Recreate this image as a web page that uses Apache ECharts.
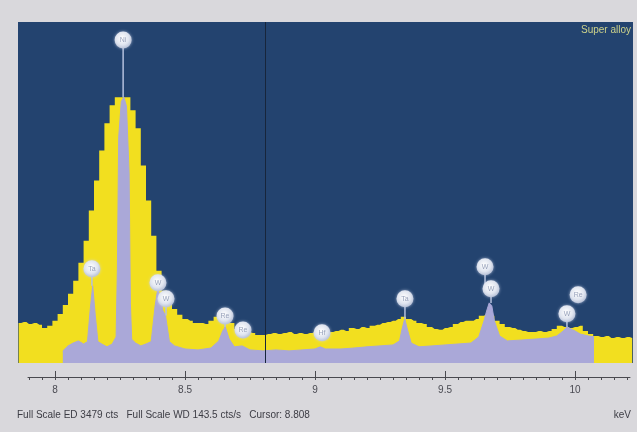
<!DOCTYPE html>
<html>
<head>
<meta charset="utf-8">
<script src="https://cdn.jsdelivr.net/npm/echarts@6/dist/echarts.min.js"></script>
<style>
html,body{margin:0;padding:0;background:#d9d8dc;}
#c{width:637px;height:432px;}
</style>
</head>
<body>
<div id="c"></div>
<script>
// ED spectrum (counts), energies in keV, 0.02 keV channels
const edEnergy = [7.86,7.88,7.90,7.92,7.94,7.96,7.98,8.00,8.02,8.04,8.06,8.08,8.10,8.12,8.14,8.16,8.18,8.20,8.22,8.24,8.26,8.28,8.30,8.32,8.34,8.36,8.38,8.40,8.42,8.44,8.46,8.48,8.50,8.52,8.54,8.56,8.58,8.60,8.62,8.64,8.66,8.68,8.70,8.72,8.74,8.76,8.78,8.80,8.82,8.84,8.86,8.88,8.90,8.92,8.94,8.96,8.98,9.00,9.02,9.04,9.06,9.08,9.10,9.12,9.14,9.16,9.18,9.20,9.22,9.24,9.26,9.28,9.30,9.32,9.34,9.36,9.38,9.40,9.42,9.44,9.46,9.48,9.50,9.52,9.54,9.56,9.58,9.60,9.62,9.64,9.66,9.68,9.70,9.72,9.74,9.76,9.78,9.80,9.82,9.84,9.86,9.88,9.90,9.92,9.94,9.96,9.98,10.00,10.02,10.04,10.06,10.08,10.10,10.12,10.14,10.16,10.18,10.20,10.22];
const edCounts = [409,419,399,409,389,358,379,430,501,593,706,839,1023,1248,1555,1862,2169,2445,2629,2711,2711,2711,2578,2394,2015,1657,1299,941,737,614,552,491,450,430,409,409,399,430,471,512,491,409,348,327,317,307,286,286,297,307,297,307,317,297,307,297,307,317,307,297,317,327,338,327,358,348,368,358,379,389,409,419,430,450,471,450,430,409,399,368,348,338,358,368,399,419,430,430,450,481,501,481,430,399,368,358,338,327,317,317,327,317,327,348,379,368,358,368,379,327,297,276,266,276,256,266,256,266,256];

// WD spectrum (cts/s)
const wdEnergy = [8.03,8.05,8.07,8.09,8.11,8.125,8.135,8.145,8.155,8.165,8.18,8.20,8.22,8.235,8.24,8.245,8.255,8.265,8.275,8.285,8.29,8.295,8.31,8.33,8.35,8.37,8.385,8.395,8.405,8.415,8.425,8.44,8.46,8.50,8.55,8.60,8.63,8.645,8.655,8.67,8.69,8.72,8.75,8.80,8.85,8.90,8.95,9.00,9.02,9.04,9.10,9.15,9.20,9.25,9.30,9.325,9.335,9.345,9.355,9.37,9.40,9.45,9.50,9.55,9.60,9.63,9.65,9.66,9.67,9.68,9.69,9.71,9.74,9.80,9.85,9.90,9.93,9.955,9.97,9.985,10.00,10.02,10.05,10.073];
const wdRate = [5.1,7.2,8.4,9.3,8.0,9.0,22.0,32.5,20.0,9.0,8.0,6.8,8.0,11.0,40.0,95.0,110.0,111.8,108.0,80.0,25.0,10.0,8.4,7.2,8.0,9.0,24.0,31.0,28.0,22.0,20.0,9.0,7.2,5.9,5.5,6.3,9.3,13.5,15.2,10.1,6.8,7.2,5.5,5.1,5.5,5.1,5.5,5.9,6.8,5.9,5.9,6.3,6.8,7.2,7.6,9.3,14.3,18.6,14.3,8.4,6.8,7.2,7.6,8.0,8.4,11.0,17.7,21.9,25.3,24.1,17.7,11.4,9.3,9.7,10.1,10.5,11.4,13.5,15.2,14.3,13.5,12.2,11.4,11.0];

// Peak labels: energy, label height (cts/s scale), stem base, text
const peakEnergy = [8.262,8.142,8.396,8.427,8.654,8.723,9.027,9.346,9.654,9.677,9.969,10.012];
const peakLabelY = [135.9,39.7,33.8,27.0,19.8,13.9,12.7,27.0,40.5,31.2,20.7,28.7];
const peakStemY  = [111.8,32.5,31.0,20.0,15.2,13.9,12.7,18.6,31.2,25.3,15.2,28.7];
const peakText   = ['Ni','Ta','W','W','Re','Re','Hf','Ta','W','W','W','Re'];

const tickLabels = [8, 8.5, 9, 9.5, 10];
const fullScaleED = 3479;
const fullScaleWD = 143.5;
const cursorKeV = 8.808;

const minorTicks = [];
for (let i = 158; i <= 204; i++) minorTicks.push(+(i * 0.05).toFixed(2));

const chart = echarts.init(document.getElementById('c'), null, {renderer: 'canvas'});

const edData = edEnergy.map((e, i) => [e, edCounts[i]]);
const wdData = wdEnergy.map((e, i) => [e, wdRate[i]]);
const labelData = peakEnergy.map((e, i) => [e, peakLabelY[i], peakStemY[i], peakText[i]]);

const option = {
  backgroundColor: '#d9d8dc',
  animation: false,
  grid: [
    {left: 18, right: 4, top: 22, bottom: 69, show: true, backgroundColor: '#23436f', borderWidth: 0},
    {left: 28, right: 7, top: 377, bottom: 55, show: false}
  ],
  xAxis: [
    {gridIndex: 0, type: 'value', min: 7.8577, max: 10.2231, show: false},
    {gridIndex: 1, type: 'value', min: 7.896, max: 10.2115,
      axisLine: {show: true, onZero: false, lineStyle: {color: '#4a4a50', width: 1}},
      axisTick: {show: true, length: 3, customValues: minorTicks, lineStyle: {color: '#4a4a50'}},
      axisLabel: {show: true, customValues: tickLabels, color: '#4a4a52', fontSize: 10,
        fontFamily: 'Liberation Sans, Arial, sans-serif', margin: 8},
      splitLine: {show: false}},
    {gridIndex: 1, type: 'value', min: 7.896, max: 10.2115,
      axisLine: {show: false},
      axisTick: {show: true, length: 6, customValues: tickLabels, lineStyle: {color: '#4a4a50'}},
      axisLabel: {show: false},
      splitLine: {show: false}}
  ],
  yAxis: [
    {gridIndex: 0, type: 'value', min: 0, max: fullScaleED, show: false},
    {gridIndex: 0, type: 'value', min: 0, max: fullScaleWD, show: false},
    {gridIndex: 1, type: 'value', min: 0, max: 1, show: false}
  ],
  series: [
    {
      name: 'ED', type: 'line', xAxisIndex: 0, yAxisIndex: 0, data: edData,
      step: 'middle', symbol: 'none', silent: true,
      lineStyle: {width: 0, color: '#f2df1f'},
      areaStyle: {color: '#f2df1f', opacity: 1}, z: 2
    },
    {
      name: 'WD', type: 'line', xAxisIndex: 0, yAxisIndex: 1, data: wdData,
      symbol: 'none', silent: true,
      lineStyle: {width: 1, color: '#aaa8d8'},
      areaStyle: {color: '#aaa8d8', opacity: 1}, z: 3,
      markLine: {
        silent: true, symbol: 'none', label: {show: false},
        lineStyle: {color: '#17253b', width: 1, type: 'solid'},
        data: [{xAxis: cursorKeV}]
      }
    },
    {
      name: 'labels', type: 'custom', xAxisIndex: 0, yAxisIndex: 1, data: labelData, z: 5, silent: true,
      renderItem: function (params, api) {
        const c = api.coord([api.value(0), api.value(1)]);
        const b = api.coord([api.value(0), api.value(2)]);
        const children = [];
        if (b[1] - c[1] > 2) {
          children.push({type: 'line', shape: {x1: c[0], y1: c[1], x2: b[0], y2: b[1]},
            style: {stroke: '#b4c0dd', lineWidth: 1.5}});
        }
        children.push({type: 'circle', shape: {cx: c[0], cy: c[1], r: 8.5},
          style: {
            fill: {type: 'radial', x: 0.45, y: 0.4, r: 0.65,
              colorStops: [{offset: 0, color: '#ffffff'}, {offset: 0.6, color: '#dfe4ef'}, {offset: 1, color: '#aeb9d2'}]},
            shadowBlur: 3, shadowColor: 'rgba(210,218,238,0.7)'
          }});
        children.push({type: 'text', x: c[0], y: c[1],
          style: {text: labelData[params.dataIndex][3], fill: '#98a2bb', fontSize: 7,
            fontFamily: 'Liberation Sans, Arial, sans-serif', align: 'center', verticalAlign: 'middle'}});
        return {type: 'group', children: children};
      }
    }
  ],
  graphic: [
    {type: 'text', right: 6, top: 25, style: {text: 'Super alloy', fill: '#cdd28a', fontSize: 10,
      fontFamily: 'Liberation Sans, Arial, sans-serif'}},
    {type: 'text', left: 17, top: 410, style: {text: 'Full Scale ED ' + fullScaleED + ' cts   Full Scale WD ' + fullScaleWD + ' cts/s   Cursor: ' + cursorKeV.toFixed(3),
      fill: '#3c3c44', fontSize: 10, fontFamily: 'Liberation Sans, Arial, sans-serif'}},
    {type: 'text', right: 6, top: 410, style: {text: 'keV', fill: '#3c3c44', fontSize: 10,
      fontFamily: 'Liberation Sans, Arial, sans-serif'}}
  ]
};
chart.setOption(option);
</script>
</body>
</html>
